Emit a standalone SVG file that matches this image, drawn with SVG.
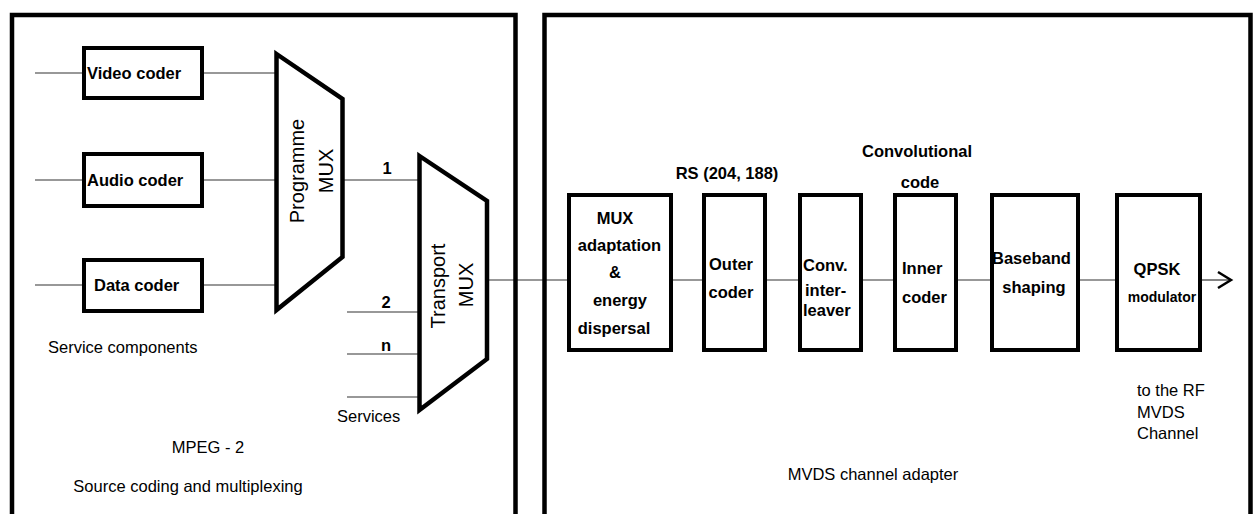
<svg xmlns="http://www.w3.org/2000/svg" width="1258" height="514" viewBox="0 0 1258 514">
<style>
text{font-family:"Liberation Sans",Arial,sans-serif;fill:#000}
.b{font-weight:bold;font-size:16.5px}
.r{font-size:16.5px}
.m{text-anchor:middle}
.panel{fill:none;stroke:#000;stroke-width:4.5}
.box{fill:#fff;stroke:#000;stroke-width:4}
.mux{fill:#fff;stroke:#000;stroke-width:4.5;stroke-linejoin:miter}
.c{stroke:#333;stroke-width:1.2;fill:none}
</style>
<rect width="1258" height="514" fill="#fff"/>
<g id="connectors">
<line class="c" x1="35" y1="73" x2="84" y2="73"/>
<line class="c" x1="202" y1="73" x2="276" y2="73"/>
<line class="c" x1="35" y1="180" x2="84" y2="180"/>
<line class="c" x1="202" y1="180" x2="276" y2="180"/>
<line class="c" x1="35" y1="285" x2="84" y2="285"/>
<line class="c" x1="202" y1="285" x2="276" y2="285"/>
<line class="c" x1="342" y1="180" x2="420" y2="180"/>
<line class="c" x1="347" y1="312" x2="420" y2="312"/>
<line class="c" x1="347" y1="354" x2="420" y2="354"/>
<line class="c" x1="347" y1="397" x2="420" y2="397"/>
<line class="c" x1="487" y1="280" x2="569" y2="280"/>
<line class="c" x1="671" y1="280" x2="704" y2="280"/>
<line class="c" x1="765" y1="280" x2="800" y2="280"/>
<line class="c" x1="861" y1="280" x2="895" y2="280"/>
<line class="c" x1="956" y1="280" x2="992" y2="280"/>
<line class="c" x1="1078" y1="280" x2="1117" y2="280"/>
<line class="c" x1="1200" y1="280" x2="1230" y2="280"/>
<polyline points="1218,272 1231,280 1218,288" fill="none" stroke="#000" stroke-width="2.5"/>
<text class="b m" x="387" y="174">1</text>
<text class="b m" x="386" y="308">2</text>
<text class="b m" x="386" y="351">n</text>
</g>
<g id="panel-source">
<path class="panel" d="M12,514 V15 H515.5 V514"/>
<text class="r" x="48" y="353">Service components</text>
<text class="r" x="337" y="422">Services</text>
<text class="r m" x="208" y="453">MPEG - 2</text>
<text class="r m" x="188" y="492">Source coding and multiplexing</text>
</g>
<g id="panel-channel">
<path class="panel" d="M544.5,514 V15 H1250.5 V514"/>
<text class="r m" x="873" y="480">MVDS channel adapter</text>
</g>
<g id="video-coder">
<rect class="box" x="84" y="48" width="118" height="50"/>
<text class="b" x="87" y="79">Video coder</text>
</g>
<g id="audio-coder">
<rect class="box" x="84" y="154" width="118" height="52"/>
<text class="b" x="87" y="186">Audio coder</text>
</g>
<g id="data-coder">
<rect class="box" x="84" y="260" width="118" height="51"/>
<text class="b" x="94" y="291">Data coder</text>
</g>
<g id="programme-mux">
<polygon class="mux" points="276.5,54 342.5,99 342.5,257 276.5,310"/>
<text transform="translate(304,171) rotate(-90)" class="m" style="font-size:20px">Programme</text>
<text transform="translate(333,171) rotate(-90)" class="m" style="font-size:20px">MUX</text>
</g>
<g id="transport-mux">
<polygon class="mux" points="419.5,156 487,201 487,359 419.5,410"/>
<text transform="translate(444.5,286) rotate(-90)" class="m" style="font-size:20px">Transport</text>
<text transform="translate(473,285) rotate(-90)" class="m" style="font-size:20px">MUX</text>
</g>
<g id="mux-adaptation">
<rect class="box" x="569" y="195" width="102" height="155"/>
<text class="b m" x="615" y="224">MUX</text>
<text class="b m" x="619.5" y="251">adaptation</text>
<text class="b m" x="615" y="278">&amp;</text>
<text class="b m" x="620" y="306">energy</text>
<text class="b m" x="614" y="334">dispersal</text>
</g>
<g id="outer-coder">
<text class="b m" x="727" y="179">RS (204, 188)</text>
<rect class="box" x="704" y="195" width="61" height="155"/>
<text class="b m" x="731" y="270">Outer</text>
<text class="b m" x="731" y="298">coder</text>
</g>
<g id="conv-interleaver">
<rect class="box" x="800" y="195" width="61" height="155"/>
<text class="b" x="803" y="271">Conv.</text>
<text class="b" x="805" y="296">inter-</text>
<text class="b" x="803" y="316">leaver</text>
</g>
<g id="inner-coder">
<text class="b m" x="917" y="157">Convolutional</text>
<text class="b m" x="920" y="188">code</text>
<rect class="box" x="895" y="195" width="61" height="155"/>
<text class="b" x="902" y="274">Inner</text>
<text class="b" x="902" y="303">coder</text>
</g>
<g id="baseband-shaping">
<rect class="box" x="992" y="195" width="86" height="155"/>
<text class="b" x="992" y="264">Baseband</text>
<text class="b m" x="1034" y="293">shaping</text>
</g>
<g id="qpsk-modulator">
<rect class="box" x="1117" y="195" width="83" height="155"/>
<text class="b m" x="1157" y="275">QPSK</text>
<text class="b m" x="1162" y="302" style="font-size:14px">modulator</text>
<text class="r" x="1137" y="396">to the RF</text>
<text class="r" x="1137" y="418">MVDS</text>
<text class="r" x="1137" y="439">Channel</text>
</g>
</svg>
